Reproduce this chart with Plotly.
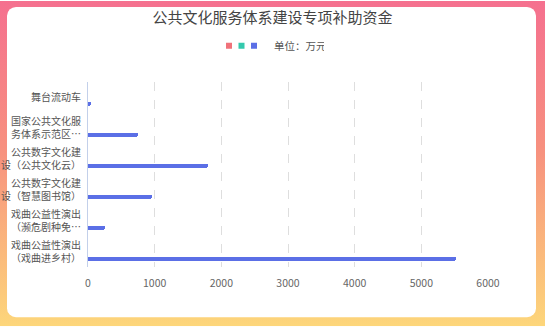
import base64
import plotly.graph_objects as go

# ---- data ----
categories = [
    "舞台流动车",
    "国家公共文化服<br>务体系示范区…",
    "公共数字文化建<br>设（公共文化云）",
    "公共数字文化建<br>设（智慧图书馆）",
    "戏曲公益性演出<br>（濒危剧种免…",
    "戏曲公益性演出<br>（戏曲进乡村）",
]
values = [50, 745, 1800, 965, 250, 5520]
series_names = ["", "", "单位：万元"]
series_colors = ["#f0727a", "#34c9ad", "#5b6fe6"]
x_ticks = [0, 1000, 2000, 3000, 4000, 5000, 6000]

W, H = 545, 327
ML, MR, MT, MB = 88, 57, 81.5, 59.5
PW, PH = W - ML - MR, H - MT - MB

FONT = "Noto Sans CJK SC, Noto Sans, sans-serif"

svg = (
    f'<svg xmlns="http://www.w3.org/2000/svg" width="{W}" height="{H}" viewBox="0 0 {W} {H}">'
    '<defs><linearGradient id="g" x1="0" y1="0" x2="0" y2="1">'
    '<stop offset="0" stop-color="#f5708f"/><stop offset="0.45" stop-color="#f7907f"/>'
    '<stop offset="1" stop-color="#fdd67a"/></linearGradient></defs>'
    f'<rect width="{W}" height="{H}" fill="url(#g)"/>'
    '<rect x="7" y="6" width="529" height="312" rx="9" ry="9" fill="#ffffff"/></svg>'
)
bg_src = "data:image/svg+xml;base64," + base64.b64encode(svg.encode()).decode()

fig = go.Figure()

# legend-only entries for the two empty series and the unit series
legend_widths = [12.5, 12.5, 90]
for name, col, lw in zip(series_names, series_colors, legend_widths):
    fig.add_trace(go.Scatter(
        x=[None], y=[None], mode="markers", name=name,
        marker=dict(symbol="square", size=6, color=col),
        legendwidth=lw / PW, hoverinfo="skip",
    ))

fig.add_trace(go.Bar(
    x=values, y=categories, orientation="h",
    marker=dict(color=series_colors[2], cornerradius=2, line=dict(width=0)),
    offset=0.16, width=0.13, showlegend=False, name=series_names[2],
))

fig.update_layout(
    width=W, height=H,
    margin=dict(l=ML, r=MR, t=MT, b=MB, pad=0, autoexpand=False),
    paper_bgcolor="rgba(0,0,0,0)", plot_bgcolor="rgba(0,0,0,0)",
    font=dict(family=FONT, size=10.5, color="#555555"),
    title=dict(text="公共文化服务体系建设专项补助资金", x=0.5, xref="container",
               y=1 - 18 / H, yref="container", yanchor="middle", xanchor="center",
               font=dict(size=15, color="#444444", family=FONT)),
    legend=dict(orientation="h", entrywidthmode="fraction",
                x=(209 - ML) / PW, xanchor="left", y=1 + (MT - 45) / PH, yanchor="middle",
                font=dict(size=10.5, color="#555555"), bgcolor="rgba(0,0,0,0)",
                itemsizing="trace"),
    showlegend=True,
    images=[dict(source=bg_src, xref="paper", yref="paper",
                 x=-ML / PW, y=1 + MT / PH, sizex=W / PW, sizey=H / PH,
                 sizing="stretch", xanchor="left", yanchor="top", layer="below")],
    bargap=0,
)

fig.update_xaxes(range=[0, 6000], tickvals=x_ticks, showgrid=True, gridcolor="#dedede",
                 griddash="dash", gridwidth=1, zeroline=False, showline=False, ticks="",
                 tickfont=dict(size=10.5, color="#666666"), ticklabelstandoff=8,
                 automargin=False, fixedrange=True)
fig.update_yaxes(type="category", range=[5.5, -0.5], showgrid=False, zeroline=False,
                 showline=True, linecolor="#c3d0ea", linewidth=1, ticks="",
                 tickfont=dict(size=10, color="#555555"), ticklabelstandoff=4,
                 automargin=False, fixedrange=True)

fig.write_html("out.html")
